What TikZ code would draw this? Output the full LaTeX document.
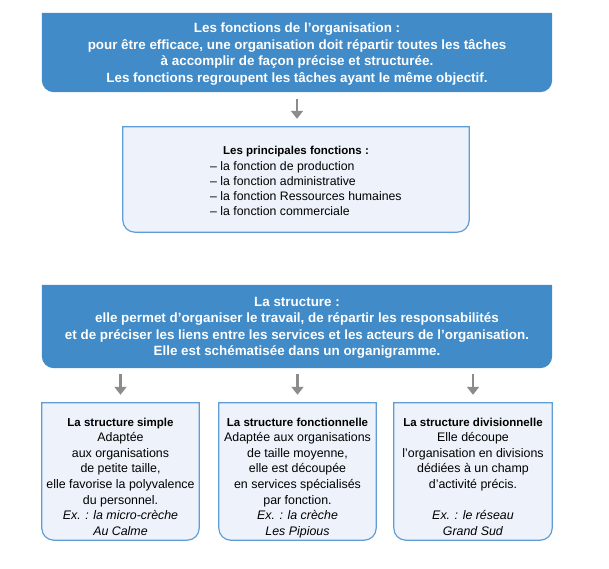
\documentclass[tikz,border=0pt]{standalone}
\usepackage{fontspec}
\setmainfont{Liberation Sans}
\usetikzlibrary{arrows.meta,backgrounds}
\definecolor{hdrblue}{RGB}{64,139,200}
\definecolor{lightfill}{RGB}{238,243,251}
\definecolor{boxedge}{RGB}{96,157,214}
\definecolor{arrowgray}{RGB}{140,140,140}
\newcommand\subtitlefont{\bfseries\fontsize{11.5}{15.5}\selectfont}
\newcommand\roundbottom[3]{%
  \path[#2] (#1.north west) -- ([yshift=12pt]#1.south west)
    arc[start angle=180,end angle=270,radius=12pt]
    -- ([xshift=-12pt]#1.south east)
    arc[start angle=270,end angle=360,radius=12pt]
    -- (#1.north east) #3;}
\tikzset{
  hdr/.style={inner sep=0pt, text=white, font=\bfseries\fontsize{13.4}{16.5}\selectfont, align=center},
  sub/.style={inner sep=0pt, font=\fontsize{12.4}{15.6}\selectfont, align=center},
  subtitle/.style={font=\subtitlefont},
  hdrshape/.style={fill=hdrblue},
  subshape/.style={fill=lightfill, draw=boxedge, line width=1.2pt},
  frame/.style={minimum height=#1, inner sep=0pt},
  flow/.style={draw=arrowgray, line width=2.4pt, -{Triangle[width=12pt,length=8pt]}}
}
\begin{document}
\begin{tikzpicture}[x=1pt,y=1pt]
\useasboundingbox (0,0) rectangle (609,-568);
% boxes as empty nodes
\node[frame=79pt, minimum width=510pt] (top) at (297,-52.5) {};
\node[frame=105pt, minimum width=346pt] (princ) at (296,-179.5) {};
\node[frame=83pt, minimum width=510pt] (struct) at (297,-326.5) {};
\node[frame=137pt, minimum width=157pt] (s1) at (120.5,-471.5) {};
\node[frame=137pt, minimum width=157pt] (s2) at (297.5,-471.5) {};
\node[frame=137pt, minimum width=158pt] (s3) at (473,-471.5) {};
\begin{scope}[on background layer]
\roundbottom{top}{hdrshape}{-- cycle}
\roundbottom{struct}{hdrshape}{-- cycle}
\roundbottom{princ}{subshape}{-- cycle}
\roundbottom{s1}{subshape}{-- cycle}
\roundbottom{s2}{subshape}{-- cycle}
\roundbottom{s3}{subshape}{-- cycle}
\end{scope}
% texts
\node[hdr] (toptext) at ([yshift=-1.5pt]top.center) {Les fonctions de l’organisation :\\
pour être efficace, une organisation doit répartir toutes les tâches\\
à accomplir de façon précise et structurée.\\
Les fonctions regroupent les tâches ayant le même objectif.};
\node[hdr] (structtext) at ([yshift=-1.5pt]struct.center) {La structure :\\
elle permet d’organiser le travail, de répartir les responsabilités\\
et de préciser les liens entre les services et les acteurs de l’organisation.\\
Elle est schématisée dans un organigramme.};
\node[sub, subtitle] (ptitle) at (296,-152) {Les principales fonctions :};
\node[sub, align=left, anchor=north west, font=\fontsize{12.3}{15}\selectfont] (plist) at (210,-161.5) {– la fonction de production\\
– la fonction administrative\\
– la fonction Ressources humaines\\
– la fonction commerciale};
\node[sub, anchor=north] (t1) at (120.5,-417.5) {{\subtitlefont La structure simple}\\
Adaptée\\
aux organisations\\
de petite taille,\\
elle favorise la polyvalence\\
du personnel.\\
\textit{Ex. : la micro-crèche}\\
\textit{Au Calme}};
\node[sub, anchor=north] (t2) at (297.5,-417.5) {{\subtitlefont La structure fonctionnelle}\\
Adaptée aux organisations\\
de taille moyenne,\\
elle est découpée\\
en services spécialisés\\
par fonction.\\
\textit{Ex. : la crèche}\\
\textit{Les Pipious}};
\node[sub, anchor=north] (t3) at (473,-417.5) {{\subtitlefont La structure divisionnelle}\\
Elle découpe\\
l’organisation en divisions\\
dédiées à un champ\\
d’activité précis.\\[15.6pt]
\textit{Ex. : le réseau}\\
\textit{Grand Sud}};
% arrows
\draw[flow, shorten <=7pt, shorten >=8pt] (top.south) -- (top.south |- princ.north);
\draw[flow, shorten <=6pt, shorten >=8pt] (struct.south -| s1.north) -- (s1.north);
\draw[flow, shorten <=6pt, shorten >=8pt] (struct.south -| s2.north) -- (s2.north);
\draw[flow, shorten <=6pt, shorten >=8pt] (struct.south -| s3.north) -- (s3.north);
\end{tikzpicture}
\end{document}
